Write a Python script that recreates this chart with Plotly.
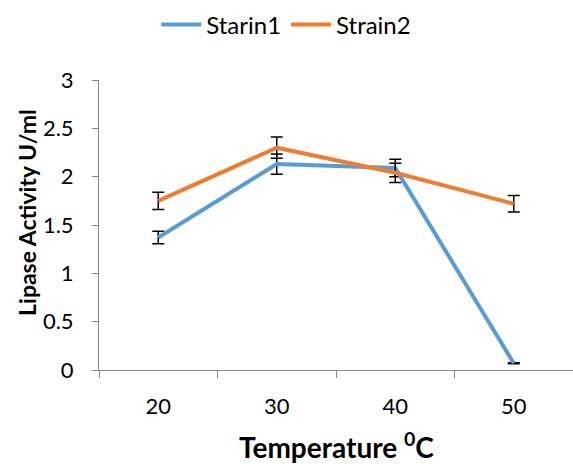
import plotly.graph_objects as go

temps = ["20", "30", "40", "50"]
strain1 = [1.37, 2.13, 2.09, 0.07]
strain1_err = [0.065, 0.105, 0.09, 0.005]
strain2 = [1.75, 2.30, 2.04, 1.72]
strain2_err = [0.09, 0.11, 0.1, 0.085]

fig = go.Figure()
fig.add_trace(go.Scatter(
    x=temps, y=strain1, name="Starin1", mode="lines",
    line=dict(color="#5B9BD5", width=4),
    error_y=dict(type="data", array=strain1_err, color="black", thickness=1.5, width=6),
))
fig.add_trace(go.Scatter(
    x=temps, y=strain2, name="Strain2", mode="lines",
    line=dict(color="#ED7D31", width=4),
    error_y=dict(type="data", array=strain2_err, color="black", thickness=1.5, width=6),
))

font = "Lato, Calibri, Carlito, sans-serif"
fig.update_layout(
    width=573, height=464,
    margin=dict(l=99, r=0, t=80, b=94),
    paper_bgcolor="white", plot_bgcolor="white",
    font=dict(family=font, size=22, color="black"),
    showlegend=True,
    legend=dict(orientation="h", x=0.395, xanchor="center", y=1.19, yanchor="middle",
                font=dict(size=24), itemwidth=40, traceorder="normal"),
    xaxis=dict(type="category", tickson="boundaries", ticks="outside", ticklen=7,
               tickcolor="#868686", showline=True, linecolor="#868686", linewidth=1,
               showgrid=False, zeroline=False, range=[-0.5, 3.5],
               tickfont=dict(size=22), ticklabelstandoff=17),
    yaxis=dict(range=[0, 3], dtick=0.5, ticks="outside", ticklen=6,
               tickcolor="#868686", showline=True, linecolor="#868686", linewidth=1,
               showgrid=False, zeroline=False, tickfont=dict(size=22),
               ticklabelstandoff=14),
    annotations=[
        dict(text="<b>Lipase Activity U/ml</b>", xref="paper", yref="paper",
             x=-0.152, y=0.545, textangle=-90, showarrow=False,
             font=dict(size=23), xanchor="center", yanchor="middle"),
        dict(text="<b>Temperature <sup>0</sup>C</b>", xref="paper", yref="paper",
             x=0.502, y=-0.259, showarrow=False, font=dict(size=28),
             xanchor="center", yanchor="middle"),
    ],
)

fig.write_html("out.html")
